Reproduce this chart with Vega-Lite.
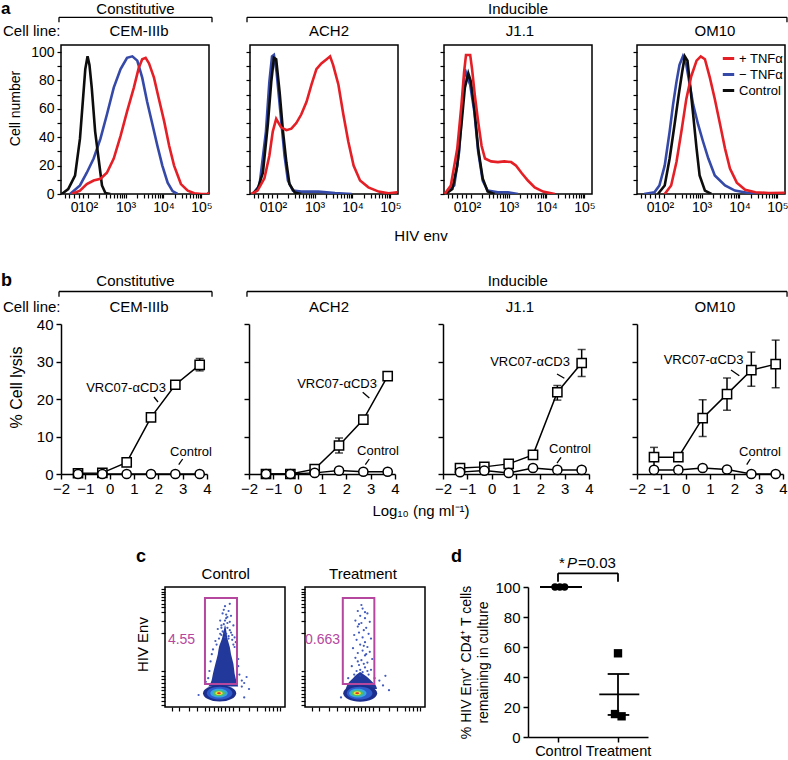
{
"$schema": "https://vega.github.io/schema/vega-lite/v6.json",
"padding": {"top": -3, "left": 0, "right": 0, "bottom": 0},
"background": "white",
"config": {
  "font": "Liberation Sans",
  "view": {"stroke": null},
  "axis": {"grid": false, "domainColor": "black", "tickColor": "black", "labelColor": "black", "titleColor": "black", "labelFont": "Liberation Sans", "titleFont": "Liberation Sans", "titleFontWeight": "normal", "labelOverlap": false, "labelFlush": false},
  "text": {"font": "Liberation Sans", "color": "black"}
},
"datasets": {
  "h_cem": [
    {"s":"− TNFα","x":1.54,"y":0},{"s":"− TNFα","x":1.8,"y":6},{"s":"− TNFα","x":1.98,"y":15},{"s":"− TNFα","x":2.16,"y":25},{"s":"− TNFα","x":2.34,"y":39},{"s":"− TNFα","x":2.51,"y":56},{"s":"− TNFα","x":2.69,"y":75},{"s":"− TNFα","x":2.87,"y":88},{"s":"− TNFα","x":3.04,"y":96},{"s":"− TNFα","x":3.18,"y":97},{"s":"− TNFα","x":3.31,"y":94},{"s":"− TNFα","x":3.44,"y":82},{"s":"− TNFα","x":3.57,"y":65},{"s":"− TNFα","x":3.71,"y":49},{"s":"− TNFα","x":3.84,"y":34},{"s":"− TNFα","x":3.97,"y":20},{"s":"− TNFα","x":4.11,"y":8},{"s":"− TNFα","x":4.24,"y":2},{"s":"− TNFα","x":4.37,"y":0},
    {"s":"Control","x":1.32,"y":0},{"s":"Control","x":1.49,"y":3.5},{"s":"Control","x":1.67,"y":13},{"s":"Control","x":1.8,"y":39},{"s":"Control","x":1.88,"y":67},{"s":"Control","x":1.94,"y":88},{"s":"Control","x":2.0,"y":97},{"s":"Control","x":2.05,"y":91},{"s":"Control","x":2.11,"y":75},{"s":"Control","x":2.2,"y":44},{"s":"Control","x":2.29,"y":25},{"s":"Control","x":2.38,"y":6},{"s":"Control","x":2.47,"y":0.7},{"s":"Control","x":2.6,"y":0},
    {"s":"+ TNFα","x":1.58,"y":0},{"s":"+ TNFα","x":1.8,"y":2.4},{"s":"+ TNFα","x":1.98,"y":7},{"s":"+ TNFα","x":2.16,"y":9.5},{"s":"+ TNFα","x":2.34,"y":10.7},{"s":"+ TNFα","x":2.51,"y":15},{"s":"+ TNFα","x":2.69,"y":25},{"s":"+ TNFα","x":2.87,"y":41},{"s":"+ TNFα","x":3.04,"y":58},{"s":"+ TNFα","x":3.22,"y":75},{"s":"+ TNFα","x":3.35,"y":89},{"s":"+ TNFα","x":3.44,"y":95},{"s":"+ TNFα","x":3.53,"y":96},{"s":"+ TNFα","x":3.62,"y":92},{"s":"+ TNFα","x":3.75,"y":82},{"s":"+ TNFα","x":3.88,"y":67},{"s":"+ TNFα","x":4.02,"y":51},{"s":"+ TNFα","x":4.15,"y":34},{"s":"+ TNFα","x":4.28,"y":20},{"s":"+ TNFα","x":4.46,"y":7},{"s":"+ TNFα","x":4.64,"y":2.4},{"s":"+ TNFα","x":4.81,"y":0.5},{"s":"+ TNFα","x":5.0,"y":0},{"s":"+ TNFα","x":5.17,"y":0},{"s":"+ TNFα","x":5.19,"y":1.2}
  ],
  "h_ach2": [
    {"s":"− TNFα","x":1.37,"y":0},{"s":"− TNFα","x":1.55,"y":6},{"s":"− TNFα","x":1.72,"y":44},{"s":"− TNFα","x":1.81,"y":79},{"s":"− TNFα","x":1.88,"y":97},{"s":"− TNFα","x":1.93,"y":98},{"s":"− TNFα","x":2.0,"y":86},{"s":"− TNFα","x":2.11,"y":55},{"s":"− TNFα","x":2.21,"y":27},{"s":"− TNFα","x":2.3,"y":9.5},{"s":"− TNFα","x":2.43,"y":2.4},{"s":"− TNFα","x":2.65,"y":1.7},{"s":"− TNFα","x":3.1,"y":1.7},{"s":"− TNFα","x":3.54,"y":0.7},{"s":"− TNFα","x":3.98,"y":0},
    {"s":"Control","x":1.37,"y":0},{"s":"Control","x":1.5,"y":3.5},{"s":"Control","x":1.64,"y":15},{"s":"Control","x":1.77,"y":49},{"s":"Control","x":1.86,"y":79},{"s":"Control","x":1.93,"y":96},{"s":"Control","x":1.99,"y":95},{"s":"Control","x":2.08,"y":72},{"s":"Control","x":2.17,"y":44},{"s":"Control","x":2.26,"y":22},{"s":"Control","x":2.34,"y":7},{"s":"Control","x":2.48,"y":1},{"s":"Control","x":2.65,"y":0},
    {"s":"+ TNFα","x":1.33,"y":0},{"s":"+ TNFα","x":1.5,"y":2.4},{"s":"+ TNFα","x":1.68,"y":11},{"s":"+ TNFα","x":1.81,"y":27},{"s":"+ TNFα","x":1.9,"y":44},{"s":"+ TNFα","x":1.99,"y":53},{"s":"+ TNFα","x":2.12,"y":47},{"s":"+ TNFα","x":2.26,"y":45},{"s":"+ TNFα","x":2.39,"y":46},{"s":"+ TNFα","x":2.52,"y":50},{"s":"+ TNFα","x":2.65,"y":56},{"s":"+ TNFα","x":2.79,"y":65},{"s":"+ TNFα","x":2.92,"y":77},{"s":"+ TNFα","x":3.05,"y":88},{"s":"+ TNFα","x":3.18,"y":92},{"s":"+ TNFα","x":3.32,"y":95},{"s":"+ TNFα","x":3.41,"y":97},{"s":"+ TNFα","x":3.49,"y":91},{"s":"+ TNFα","x":3.63,"y":77},{"s":"+ TNFα","x":3.76,"y":56},{"s":"+ TNFα","x":3.89,"y":37},{"s":"+ TNFα","x":4.03,"y":20},{"s":"+ TNFα","x":4.2,"y":9.5},{"s":"+ TNFα","x":4.42,"y":4.7},{"s":"+ TNFα","x":4.69,"y":1.7},{"s":"+ TNFα","x":4.95,"y":0.5},{"s":"+ TNFα","x":5.18,"y":1.2}
  ],
  "h_j11": [
    {"s":"− TNFα","x":1.34,"y":0},{"s":"− TNFα","x":1.57,"y":6},{"s":"− TNFα","x":1.7,"y":30},{"s":"− TNFα","x":1.79,"y":65},{"s":"− TNFα","x":1.85,"y":88},{"s":"− TNFα","x":1.92,"y":82},{"s":"− TNFα","x":1.99,"y":77},{"s":"− TNFα","x":2.1,"y":58},{"s":"− TNFα","x":2.2,"y":30},{"s":"− TNFα","x":2.32,"y":9.5},{"s":"− TNFα","x":2.45,"y":2.4},{"s":"− TNFα","x":2.72,"y":1.2},{"s":"− TNFα","x":2.98,"y":1.2},{"s":"− TNFα","x":3.25,"y":0},
    {"s":"Control","x":1.34,"y":0},{"s":"Control","x":1.52,"y":3.5},{"s":"Control","x":1.65,"y":20},{"s":"Control","x":1.76,"y":49},{"s":"Control","x":1.85,"y":75},{"s":"Control","x":1.94,"y":85},{"s":"Control","x":2.01,"y":79},{"s":"Control","x":2.1,"y":60},{"s":"Control","x":2.2,"y":32},{"s":"Control","x":2.32,"y":11},{"s":"Control","x":2.45,"y":1.7},{"s":"Control","x":2.63,"y":0},
    {"s":"+ TNFα","x":1.32,"y":0},{"s":"+ TNFα","x":1.48,"y":6},{"s":"+ TNFα","x":1.65,"y":32},{"s":"+ TNFα","x":1.76,"y":63},{"s":"+ TNFα","x":1.83,"y":86},{"s":"+ TNFα","x":1.88,"y":98},{"s":"+ TNFα","x":1.99,"y":98},{"s":"+ TNFα","x":2.04,"y":88},{"s":"+ TNFα","x":2.11,"y":70},{"s":"+ TNFα","x":2.2,"y":51},{"s":"+ TNFα","x":2.29,"y":34},{"s":"+ TNFα","x":2.38,"y":25},{"s":"+ TNFα","x":2.54,"y":23},{"s":"+ TNFα","x":2.72,"y":22.5},{"s":"+ TNFα","x":2.89,"y":23},{"s":"+ TNFα","x":3.07,"y":22.5},{"s":"+ TNFα","x":3.2,"y":20},{"s":"+ TNFα","x":3.34,"y":15},{"s":"+ TNFα","x":3.51,"y":9.5},{"s":"+ TNFα","x":3.69,"y":4.7},{"s":"+ TNFα","x":3.91,"y":1.7},{"s":"+ TNFα","x":4.22,"y":0}
  ],
  "h_om10": [
    {"s":"− TNFα","x":1.49,"y":0},{"s":"− TNFα","x":1.76,"y":1.2},{"s":"− TNFα","x":1.89,"y":6},{"s":"− TNFα","x":2.03,"y":20},{"s":"− TNFα","x":2.16,"y":44},{"s":"− TNFα","x":2.25,"y":63},{"s":"− TNFα","x":2.34,"y":79},{"s":"− TNFα","x":2.42,"y":91},{"s":"− TNFα","x":2.51,"y":97},{"s":"− TNFα","x":2.6,"y":91},{"s":"− TNFα","x":2.69,"y":77},{"s":"− TNFα","x":2.78,"y":63},{"s":"− TNFα","x":2.91,"y":49},{"s":"− TNFα","x":3.04,"y":37},{"s":"− TNFα","x":3.18,"y":25},{"s":"− TNFα","x":3.35,"y":13},{"s":"− TNFα","x":3.62,"y":6},{"s":"− TNFα","x":3.88,"y":2.4},{"s":"− TNFα","x":4.24,"y":0.7},{"s":"− TNFα","x":4.5,"y":0},
    {"s":"Control","x":1.85,"y":0},{"s":"Control","x":2.03,"y":6},{"s":"Control","x":2.16,"y":25},{"s":"Control","x":2.29,"y":49},{"s":"Control","x":2.4,"y":70},{"s":"Control","x":2.49,"y":86},{"s":"Control","x":2.56,"y":97},{"s":"Control","x":2.63,"y":94},{"s":"Control","x":2.69,"y":79},{"s":"Control","x":2.78,"y":56},{"s":"Control","x":2.87,"y":32},{"s":"Control","x":2.95,"y":13},{"s":"Control","x":3.09,"y":2.4},{"s":"Control","x":3.26,"y":0},
    {"s":"+ TNFα","x":2.03,"y":0},{"s":"+ TNFα","x":2.2,"y":6},{"s":"+ TNFα","x":2.34,"y":22.5},{"s":"+ TNFα","x":2.47,"y":44},{"s":"+ TNFα","x":2.6,"y":67},{"s":"+ TNFα","x":2.73,"y":83},{"s":"+ TNFα","x":2.87,"y":94},{"s":"+ TNFα","x":2.98,"y":97},{"s":"+ TNFα","x":3.09,"y":95},{"s":"+ TNFα","x":3.22,"y":82},{"s":"+ TNFα","x":3.35,"y":67},{"s":"+ TNFα","x":3.49,"y":49},{"s":"+ TNFα","x":3.62,"y":32},{"s":"+ TNFα","x":3.75,"y":18},{"s":"+ TNFα","x":3.93,"y":8},{"s":"+ TNFα","x":4.15,"y":3},{"s":"+ TNFα","x":4.42,"y":1.2},{"s":"+ TNFα","x":4.77,"y":0.7},{"s":"+ TNFα","x":5.19,"y":0.9}
  ],
  "bpts": [
    {"p":"cem","g":"VRC07-αCD3","x":-1.301,"y":0.2},{"p":"cem","g":"VRC07-αCD3","x":-0.301,"y":0.3},{"p":"cem","g":"VRC07-αCD3","x":0.699,"y":3.1},{"p":"cem","g":"VRC07-αCD3","x":1.699,"y":15.1},{"p":"cem","g":"VRC07-αCD3","x":2.699,"y":23.8},{"p":"cem","g":"VRC07-αCD3","x":3.699,"y":29.1},
    {"p":"cem","g":"Control","x":-1.301,"y":0},{"p":"cem","g":"Control","x":-0.301,"y":0},{"p":"cem","g":"Control","x":0.699,"y":0},{"p":"cem","g":"Control","x":1.699,"y":0},{"p":"cem","g":"Control","x":2.699,"y":0},{"p":"cem","g":"Control","x":3.699,"y":0},
    {"p":"ach2","g":"VRC07-αCD3","x":-1.301,"y":0},{"p":"ach2","g":"VRC07-αCD3","x":-0.301,"y":0},{"p":"ach2","g":"VRC07-αCD3","x":0.699,"y":1.3},{"p":"ach2","g":"VRC07-αCD3","x":1.699,"y":7.6},{"p":"ach2","g":"VRC07-αCD3","x":2.699,"y":14.5},{"p":"ach2","g":"VRC07-αCD3","x":3.699,"y":26.1},
    {"p":"ach2","g":"Control","x":-1.301,"y":0},{"p":"ach2","g":"Control","x":-0.301,"y":0},{"p":"ach2","g":"Control","x":0.699,"y":0.3},{"p":"ach2","g":"Control","x":1.699,"y":0.9},{"p":"ach2","g":"Control","x":2.699,"y":0.6},{"p":"ach2","g":"Control","x":3.699,"y":0.6},
    {"p":"j11","g":"VRC07-αCD3","x":-1.301,"y":1.6},{"p":"j11","g":"VRC07-αCD3","x":-0.301,"y":1.9},{"p":"j11","g":"VRC07-αCD3","x":0.699,"y":2.7},{"p":"j11","g":"VRC07-αCD3","x":1.699,"y":5.1},{"p":"j11","g":"VRC07-αCD3","x":2.699,"y":21.8},{"p":"j11","g":"VRC07-αCD3","x":3.699,"y":29.6},
    {"p":"j11","g":"Control","x":-1.301,"y":0.5},{"p":"j11","g":"Control","x":-0.301,"y":0.9},{"p":"j11","g":"Control","x":0.699,"y":0.3},{"p":"j11","g":"Control","x":1.699,"y":1.6},{"p":"j11","g":"Control","x":2.699,"y":1.1},{"p":"j11","g":"Control","x":3.699,"y":1.1},
    {"p":"om10","g":"VRC07-αCD3","x":-1.301,"y":4.5},{"p":"om10","g":"VRC07-αCD3","x":-0.301,"y":4.5},{"p":"om10","g":"VRC07-αCD3","x":0.699,"y":14.9},{"p":"om10","g":"VRC07-αCD3","x":1.699,"y":21.3},{"p":"om10","g":"VRC07-αCD3","x":2.699,"y":27.7},{"p":"om10","g":"VRC07-αCD3","x":3.699,"y":29.3},
    {"p":"om10","g":"Control","x":-1.301,"y":1.1},{"p":"om10","g":"Control","x":-0.301,"y":1.1},{"p":"om10","g":"Control","x":0.699,"y":1.6},{"p":"om10","g":"Control","x":1.699,"y":1.2},{"p":"om10","g":"Control","x":2.699,"y":0},{"p":"om10","g":"Control","x":3.699,"y":0}
  ],
  "berr": [
    {"p":"cem","x":3.699,"y":27.5,"y2":30.8},
    {"p":"ach2","x":1.699,"y":5.6,"y2":9.6},
    {"p":"j11","x":2.699,"y":19.7,"y2":23.6},{"p":"j11","x":3.699,"y":26.0,"y2":33.2},
    {"p":"om10","x":-1.301,"y":1.9,"y2":7.1},{"p":"om10","x":0.699,"y":10.0,"y2":19.8},{"p":"om10","x":1.699,"y":17.0,"y2":25.6},{"p":"om10","x":2.699,"y":23.4,"y2":32.5},{"p":"om10","x":3.699,"y":23.0,"y2":35.7}
  ],
  "ann": [
    {"p":"cem_a","k":"h","t":"Constitutive","x":3.263,"y":127.0},
    {"p":"cem_a","k":"h","t":"CEM-IIIb","x":3.355,"y":111.0},
    {"p":"cem_a","k":"l","t":"Cell line:","x":-0.228,"y":111.0},
    {"p":"cem_a","k":"b","t":"a","x":-0.281,"y":126.5},
    {"p":"ach2_a","k":"h","t":"ACH2","x":3.382,"y":111.0},
    {"p":"ach2_a","k":"h","t":"HIV env","x":5.806,"y":-33.1},
    {"p":"j11_a","k":"h","t":"Inducible","x":3.25,"y":127.0},
    {"p":"j11_a","k":"h","t":"J1.1","x":3.303,"y":111.0},
    {"p":"om10_a","k":"h","t":"OM10","x":3.355,"y":111.0},
    {"p":"cem_b","k":"h","t":"Constitutive","x":1.062,"y":50.13},
    {"p":"cem_b","k":"h","t":"CEM-IIIb","x":1.206,"y":43.2},
    {"p":"cem_b","k":"l","t":"Cell line:","x":-4.384,"y":43.2},
    {"p":"cem_b","k":"b","t":"b","x":-4.466,"y":50.13},
    {"p":"cem_b","k":"n","t":"VRC07-αCD3","x":0.672,"y":21.87},
    {"p":"cem_b","k":"n","t":"Control","x":3.343,"y":4.8},
    {"p":"ach2_b","k":"h","t":"ACH2","x":1.288,"y":43.2},
    {"p":"ach2_b","k":"h","t":"Log₁₀ (ng ml⁻¹)","x":5.069,"y":-11.2},
    {"p":"ach2_b","k":"n","t":"VRC07-αCD3","x":1.617,"y":22.93},
    {"p":"ach2_b","k":"n","t":"Control","x":3.302,"y":5.07},
    {"p":"j11_b","k":"h","t":"Inducible","x":1.07,"y":50.13},
    {"p":"j11_b","k":"h","t":"J1.1","x":1.165,"y":43.2},
    {"p":"j11_b","k":"n","t":"VRC07-αCD3","x":1.576,"y":28.88},
    {"p":"j11_b","k":"n","t":"Control","x":3.22,"y":5.52},
    {"p":"om10_b","k":"h","t":"OM10","x":1.206,"y":43.2},
    {"p":"om10_b","k":"n","t":"VRC07-αCD3","x":0.733,"y":29.33},
    {"p":"om10_b","k":"n","t":"Control","x":3.055,"y":4.89},
    {"p":"cc","k":"b","t":"c","x":-24.2,"y":120.8},
    {"p":"cc","k":"h","t":"Control","x":50.6,"y":106.7},
    {"p":"cc","k":"r","t":"HIV Env","x":-18,"y":52},
    {"p":"cc","k":"g","t":"4.55","x":13.75,"y":55.8},
    {"p":"ct","k":"h","t":"Treatment","x":48.3,"y":106.7},
    {"p":"ct","k":"g","t":"0.663","x":14.6,"y":55.8},
    {"p":"d","k":"b","t":"d","x":-1.283,"y":116.7},
    {"p":"d","k":"s","t":"*","x":0.517,"y":112.5},
    {"p":"d","k":"i","t":"P","x":0.65,"y":112.5},
    {"p":"d","k":"s","t":"=0.03","x":0.833,"y":112.5}
  ],
  "mk": [
    {"p":"cem_a","x":2.354,"y":137.77},{"p":"cem_a","x":2.354,"y":-41.16},
    {"p":"cem_b","x":0,"y":58.507},{"p":"cem_b","x":0,"y":-15.84},
    {"p":"cc","x":50,"y":142.83}
  ],
  "rules": [
    {"p":"cem_a","x":1.247,"x2":5.279,"y":124.5,"y2":124.5},{"p":"cem_a","x":1.247,"x2":1.247,"y":124.5,"y2":121.0},{"p":"cem_a","x":5.279,"x2":5.279,"y":124.5,"y2":121.0},
    {"p":"j11_a","x":-3.891,"x2":10.338,"y":124.5,"y2":124.5},{"p":"j11_a","x":-3.891,"x2":-3.891,"y":124.5,"y2":121.0},{"p":"j11_a","x":10.338,"x2":10.338,"y":124.5,"y2":121.0},
    {"p":"cem_b","x":-2.082,"x2":4.206,"y":48.67,"y2":48.67},{"p":"cem_b","x":-2.082,"x2":-2.082,"y":48.67,"y2":47.28},{"p":"cem_b","x":4.206,"x2":4.206,"y":48.67,"y2":47.28},
    {"p":"cem_b","x":1.822,"x2":1.987,"y":20.53,"y2":19.2},{"p":"cem_b","x":3.0,"x2":2.837,"y":4.0,"y2":2.48},
    {"p":"ach2_b","x":2.673,"x2":2.945,"y":21.79,"y2":20.27},{"p":"ach2_b","x":2.945,"x2":2.781,"y":4.0,"y2":2.48},
    {"p":"j11_b","x":-10.056,"x2":12.139,"y":48.67,"y2":48.67},{"p":"j11_b","x":-10.056,"x2":-10.056,"y":48.67,"y2":47.28},{"p":"j11_b","x":12.139,"x2":12.139,"y":48.67,"y2":47.28},
    {"p":"j11_b","x":2.686,"x2":2.987,"y":26.67,"y2":25.52},{"p":"j11_b","x":2.85,"x2":2.686,"y":4.44,"y2":2.93},
    {"p":"om10_b","x":1.864,"x2":2.205,"y":27.73,"y2":26.21},{"p":"om10_b","x":2.657,"x2":2.509,"y":4.0,"y2":2.48},
    {"p":"d","x":0.2,"x2":0.9,"y":100,"y2":100},{"p":"d","x":1.188,"x2":1.855,"y":28.4,"y2":28.4},{"p":"d","x":1.5,"x2":1.5,"y":14.7,"y2":42},{"p":"d","x":1.328,"x2":1.688,"y":42,"y2":42},{"p":"d","x":1.328,"x2":1.688,"y":14.7,"y2":14.7},
    {"p":"d","x":0.5,"x2":1.5,"y":109.1,"y2":109.1},{"p":"d","x":0.5,"x2":0.5,"y":109.1,"y2":103.5},{"p":"d","x":1.5,"x2":1.5,"y":109.1,"y2":103.5}
  ],
  "c_area": [
    {"p":"cc","y":17,"x":36,"x2":61},{"p":"cc","y":20,"x":38,"x2":60},{"p":"cc","y":28,"x":40,"x2":58},{"p":"cc","y":36,"x":42,"x2":57},{"p":"cc","y":44,"x":44,"x2":55},{"p":"cc","y":50,"x":45,"x2":54},{"p":"cc","y":57,"x":47.5,"x2":52},{"p":"cc","y":64,"x":49,"x2":51},{"p":"cc","y":68,"x":49.8,"x2":50.3},
    {"p":"ct","y":15,"x":34,"x2":60},{"p":"ct","y":18,"x":35,"x2":59},{"p":"ct","y":21,"x":37,"x2":56},{"p":"ct","y":24,"x":40,"x2":53},{"p":"ct","y":27,"x":43,"x2":49},{"p":"ct","y":29,"x":45.5,"x2":46.5}
  ],
  "c_dots": [
    {"p":"cc","x":50,"y":84},{"p":"cc","x":53,"y":80},{"p":"cc","x":48,"y":78},{"p":"cc","x":55,"y":76},{"p":"cc","x":51,"y":74},{"p":"cc","x":46,"y":72},{"p":"cc","x":54,"y":71},{"p":"cc","x":49,"y":69},{"p":"cc","x":57,"y":68},{"p":"cc","x":52,"y":66},{"p":"cc","x":44,"y":65},{"p":"cc","x":48,"y":63},{"p":"cc","x":55,"y":62},{"p":"cc","x":51,"y":61},{"p":"cc","x":47,"y":60},{"p":"cc","x":53,"y":59},{"p":"cc","x":58,"y":58},{"p":"cc","x":45,"y":57},{"p":"cc","x":56,"y":56},{"p":"cc","x":42,"y":55},{"p":"cc","x":59,"y":54},{"p":"cc","x":43,"y":52},{"p":"cc","x":58,"y":50},{"p":"cc","x":40,"y":48},{"p":"cc","x":60,"y":46},{"p":"cc","x":39,"y":44},{"p":"cc","x":61,"y":40},{"p":"cc","x":38,"y":38},{"p":"cc","x":61,"y":34},{"p":"cc","x":37,"y":30},{"p":"cc","x":62,"y":27},{"p":"cc","x":36,"y":24},{"p":"cc","x":64,"y":22},{"p":"cc","x":66,"y":20},{"p":"cc","x":68,"y":25},{"p":"cc","x":34,"y":21},{"p":"cc","x":70,"y":15},{"p":"cc","x":64,"y":17},{"p":"cc","x":28,"y":10},{"p":"cc","x":66,"y":8},{"p":"cc","x":50,"y":72},{"p":"cc","x":52,"y":70},{"p":"cc","x":47,"y":66},{"p":"cc","x":54,"y":64},{"p":"cc","x":49,"y":62},{"p":"cc","x":56,"y":60},{"p":"cc","x":50,"y":58},{"p":"cc","x":53,"y":57},{"p":"cc","x":46,"y":61},{"p":"cc","x":57,"y":52},{"p":"cc","x":51,"y":77},{"p":"cc","x":49,"y":81},{"p":"cc","x":54,"y":86},{"p":"cc","x":52,"y":75},{"p":"cc","x":47,"y":68},
    {"p":"ct","x":48,"y":82},{"p":"ct","x":44,"y":80},{"p":"ct","x":52,"y":78},{"p":"ct","x":46,"y":76},{"p":"ct","x":50,"y":74},{"p":"ct","x":42,"y":72},{"p":"ct","x":54,"y":71},{"p":"ct","x":47,"y":70},{"p":"ct","x":44,"y":67},{"p":"ct","x":51,"y":66},{"p":"ct","x":49,"y":64},{"p":"ct","x":45,"y":62},{"p":"ct","x":53,"y":61},{"p":"ct","x":41,"y":60},{"p":"ct","x":48,"y":58},{"p":"ct","x":55,"y":57},{"p":"ct","x":43,"y":56},{"p":"ct","x":50,"y":54},{"p":"ct","x":46,"y":52},{"p":"ct","x":52,"y":50},{"p":"ct","x":40,"y":49},{"p":"ct","x":48,"y":47},{"p":"ct","x":54,"y":46},{"p":"ct","x":44,"y":45},{"p":"ct","x":50,"y":43},{"p":"ct","x":42,"y":41},{"p":"ct","x":56,"y":40},{"p":"ct","x":47,"y":39},{"p":"ct","x":52,"y":37},{"p":"ct","x":45,"y":35},{"p":"ct","x":39,"y":34},{"p":"ct","x":50,"y":33},{"p":"ct","x":55,"y":31},{"p":"ct","x":43,"y":30},{"p":"ct","x":48,"y":29},{"p":"ct","x":41,"y":27},{"p":"ct","x":53,"y":27},{"p":"ct","x":46,"y":26},{"p":"ct","x":58,"y":24},{"p":"ct","x":36,"y":24},{"p":"ct","x":62,"y":22},{"p":"ct","x":65,"y":18},{"p":"ct","x":70,"y":14},{"p":"ct","x":30,"y":8},{"p":"ct","x":67,"y":26},{"p":"ct","x":47,"y":85},{"p":"ct","x":50,"y":79},{"p":"ct","x":45,"y":69},{"p":"ct","x":49,"y":51},{"p":"ct","x":51,"y":44},{"p":"ct","x":44,"y":38},{"p":"ct","x":49,"y":36},{"p":"ct","x":46,"y":31},{"p":"ct","x":52,"y":30}
  ],
  "c_blob": [
    {"p":"cc","x":45.5,"y":11.5,"lvl":1},{"p":"cc","x":45.5,"y":11.5,"lvl":2},{"p":"cc","x":45,"y":11.5,"lvl":3},{"p":"cc","x":45,"y":11.5,"lvl":4},{"p":"cc","x":45,"y":11.5,"lvl":5},{"p":"cc","x":45,"y":11.5,"lvl":6},
    {"p":"ct","x":46,"y":11.5,"lvl":1},{"p":"ct","x":45.5,"y":11.5,"lvl":2},{"p":"ct","x":44,"y":11.5,"lvl":3},{"p":"ct","x":43.5,"y":11.5,"lvl":4},{"p":"ct","x":43.5,"y":11.5,"lvl":5},{"p":"ct","x":43.5,"y":11.5,"lvl":6}
  ],
  "c_gate": [
    {"p":"cc","x":33.3,"x2":60,"y":19.2,"y2":90.8},
    {"p":"ct","x":31.5,"x2":57.8,"y":19.2,"y2":90.8}
  ],
  "d_pts": [
    {"g":"Control","x":0.45,"y":100},{"g":"Control","x":0.53,"y":100},{"g":"Control","x":0.61,"y":100},
    {"g":"Treatment","x":1.5,"y":55.8},{"g":"Treatment","x":1.45,"y":15.3},{"g":"Treatment","x":1.56,"y":13.8}
  ]
},
"spacing": 0,
"bounds": "full",
"resolve": {"scale": {"color": "independent", "size": "independent"}, "legend": {"color": "independent", "size": "independent"}},
"vconcat": [
 {"hconcat": [
  {"width": 148, "height": 149, "view": {"stroke": "black", "strokeWidth": 1.5},
   "encoding": {
    "x": {"field": "x", "type": "quantitative", "scale": {"domain": [1.3, 5.2], "nice": false, "zero": false}, "axis": {"values": [1.4,1.52,1.645,1.77,1.88,2,2.301,2.477,2.602,2.699,2.778,2.845,2.903,2.954,3,3.301,3.477,3.602,3.699,3.778,3.845,3.903,3.954,4,4.301,4.477,4.602,4.699,4.778,4.845,4.903,4.954,5], "labelExpr": "datum.value == 1.645 ? '0' : datum.value == 2 ? '10²' : datum.value == 3 ? '10³' : datum.value == 4 ? '10⁴' : datum.value == 5 ? '10⁵' : ''", "tickSize": 4, "tickWidth": 1.2, "labelFontSize": 14, "labelPadding": 2, "labelFlush": false, "labelOverlap": false, "title": null, "domain": false}},
    "y": {"field": "y", "type": "quantitative", "scale": {"domain": [0, 105], "nice": false, "zero": false}, "axis": {"values": [0,10,20,30,40,50,60,70,80,90,100], "labelExpr": "datum.value % 20 == 0 ? datum.label : ''", "tickSize": 4, "tickWidth": 1.2, "labelFontSize": 14, "labelPadding": 3, "labelOverlap": false, "title": "Cell number", "titleFontSize": 14, "titlePadding": 8, "titleY": 63, "domain": false}}
   },
   "layer": [
    {"data": {"name": "h_cem"}, "mark": {"type": "line", "strokeWidth": 2.6, "clip": true},
     "encoding": {"color": {"field": "s", "type": "nominal", "scale": {"domain": ["+ TNFα", "− TNFα", "Control"], "range": ["#e41f26", "#3549a8", "#0d0d0d"]}, "legend": null}}},
    {"data": {"name": "mk"}, "transform": [{"filter": "datum.p == 'cem_a'"}], "mark": {"type": "point", "filled": true, "size": 1, "opacity": 0}, "encoding": {}},
    {"data": {"name": "ann"}, "transform": [{"filter": "datum.p == 'cem_a' && datum.k == 'h'"}], "mark": {"type": "text", "fontSize": 15, "align": "center", "baseline": "alphabetic"}, "encoding": {"text": {"field": "t"}}},
    {"data": {"name": "ann"}, "transform": [{"filter": "datum.p == 'cem_a' && datum.k == 'l'"}], "mark": {"type": "text", "fontSize": 15, "align": "left", "baseline": "alphabetic"}, "encoding": {"text": {"field": "t"}}},
    {"data": {"name": "ann"}, "transform": [{"filter": "datum.p == 'cem_a' && datum.k == 'b'"}], "mark": {"type": "text", "fontSize": 17, "fontWeight": "bold", "align": "left", "baseline": "alphabetic"}, "encoding": {"text": {"field": "t"}}},
    {"data": {"name": "rules"}, "transform": [{"filter": "datum.p == 'cem_a'"}], "mark": {"type": "rule", "strokeWidth": 1.3, "color": "black"}, "encoding": {"x2": {"field": "x2"}, "y2": {"field": "y2"}}}
   ]},
  {"width": 41, "height": 1, "data": {"values": []}, "mark": "point"},
  {"width": 148, "height": 149, "view": {"stroke": "black", "strokeWidth": 1.5},
   "encoding": {
    "x": {"field": "x", "type": "quantitative", "scale": {"domain": [1.3, 5.2], "nice": false, "zero": false}, "axis": {"values": [1.4,1.52,1.645,1.77,1.88,2,2.301,2.477,2.602,2.699,2.778,2.845,2.903,2.954,3,3.301,3.477,3.602,3.699,3.778,3.845,3.903,3.954,4,4.301,4.477,4.602,4.699,4.778,4.845,4.903,4.954,5], "labelExpr": "datum.value == 1.645 ? '0' : datum.value == 2 ? '10²' : datum.value == 3 ? '10³' : datum.value == 4 ? '10⁴' : datum.value == 5 ? '10⁵' : ''", "tickSize": 4, "tickWidth": 1.2, "labelFontSize": 14, "labelPadding": 2, "labelFlush": false, "labelOverlap": false, "title": null, "domain": false}},
    "y": {"field": "y", "type": "quantitative", "scale": {"domain": [0, 105], "nice": false, "zero": false}, "axis": {"values": [0,10,20,30,40,50,60,70,80,90,100], "labels": false, "tickSize": 4, "tickWidth": 1.2, "title": null, "domain": false}}
   },
   "layer": [
    {"data": {"name": "h_ach2"}, "mark": {"type": "line", "strokeWidth": 2.6, "clip": true},
     "encoding": {"color": {"field": "s", "type": "nominal", "scale": {"domain": ["+ TNFα", "− TNFα", "Control"], "range": ["#e41f26", "#3549a8", "#0d0d0d"]}, "legend": null}}},
    {"data": {"name": "ann"}, "transform": [{"filter": "datum.p == 'ach2_a' && datum.k == 'h'"}], "mark": {"type": "text", "fontSize": 15, "align": "center", "baseline": "alphabetic"}, "encoding": {"text": {"field": "t"}}}
   ]},
  {"width": 46, "height": 1, "data": {"values": []}, "mark": "point"},
  {"width": 148, "height": 149, "view": {"stroke": "black", "strokeWidth": 1.5},
   "encoding": {
    "x": {"field": "x", "type": "quantitative", "scale": {"domain": [1.3, 5.2], "nice": false, "zero": false}, "axis": {"values": [1.4,1.52,1.645,1.77,1.88,2,2.301,2.477,2.602,2.699,2.778,2.845,2.903,2.954,3,3.301,3.477,3.602,3.699,3.778,3.845,3.903,3.954,4,4.301,4.477,4.602,4.699,4.778,4.845,4.903,4.954,5], "labelExpr": "datum.value == 1.645 ? '0' : datum.value == 2 ? '10²' : datum.value == 3 ? '10³' : datum.value == 4 ? '10⁴' : datum.value == 5 ? '10⁵' : ''", "tickSize": 4, "tickWidth": 1.2, "labelFontSize": 14, "labelPadding": 2, "labelFlush": false, "labelOverlap": false, "title": null, "domain": false}},
    "y": {"field": "y", "type": "quantitative", "scale": {"domain": [0, 105], "nice": false, "zero": false}, "axis": {"values": [0,10,20,30,40,50,60,70,80,90,100], "labels": false, "tickSize": 4, "tickWidth": 1.2, "title": null, "domain": false}}
   },
   "layer": [
    {"data": {"name": "h_j11"}, "mark": {"type": "line", "strokeWidth": 2.6, "clip": true},
     "encoding": {"color": {"field": "s", "type": "nominal", "scale": {"domain": ["+ TNFα", "− TNFα", "Control"], "range": ["#e41f26", "#3549a8", "#0d0d0d"]}, "legend": null}}},
    {"data": {"name": "ann"}, "transform": [{"filter": "datum.p == 'j11_a' && datum.k == 'h'"}], "mark": {"type": "text", "fontSize": 15, "align": "center", "baseline": "alphabetic"}, "encoding": {"text": {"field": "t"}}},
    {"data": {"name": "rules"}, "transform": [{"filter": "datum.p == 'j11_a'"}], "mark": {"type": "rule", "strokeWidth": 1.3, "color": "black"}, "encoding": {"x2": {"field": "x2"}, "y2": {"field": "y2"}}}
   ]},
  {"width": 45, "height": 1, "data": {"values": []}, "mark": "point"},
  {"width": 148, "height": 149, "view": {"stroke": "black", "strokeWidth": 1.5},
   "encoding": {
    "x": {"field": "x", "type": "quantitative", "scale": {"domain": [1.3, 5.2], "nice": false, "zero": false}, "axis": {"values": [1.4,1.52,1.645,1.77,1.88,2,2.301,2.477,2.602,2.699,2.778,2.845,2.903,2.954,3,3.301,3.477,3.602,3.699,3.778,3.845,3.903,3.954,4,4.301,4.477,4.602,4.699,4.778,4.845,4.903,4.954,5], "labelExpr": "datum.value == 1.645 ? '0' : datum.value == 2 ? '10²' : datum.value == 3 ? '10³' : datum.value == 4 ? '10⁴' : datum.value == 5 ? '10⁵' : ''", "tickSize": 4, "tickWidth": 1.2, "labelFontSize": 14, "labelPadding": 2, "labelFlush": false, "labelOverlap": false, "title": null, "domain": false}},
    "y": {"field": "y", "type": "quantitative", "scale": {"domain": [0, 105], "nice": false, "zero": false}, "axis": {"values": [0,10,20,30,40,50,60,70,80,90,100], "labels": false, "tickSize": 4, "tickWidth": 1.2, "title": null, "domain": false}}
   },
   "layer": [
    {"data": {"name": "h_om10"}, "mark": {"type": "line", "strokeWidth": 2.6, "clip": true},
     "encoding": {"color": {"field": "s", "type": "nominal", "scale": {"domain": ["+ TNFα", "− TNFα", "Control"], "range": ["#e41f26", "#3549a8", "#0d0d0d"]},
        "legend": {"orient": "none", "legendX": 84, "legendY": 6, "title": null, "symbolType": "stroke", "symbolStrokeWidth": 3, "symbolSize": 130, "labelFontSize": 13, "labelFont": "Liberation Sans", "labelColor": "black", "labelOffset": 3, "rowPadding": 1, "padding": 0}}}},
    {"data": {"name": "ann"}, "transform": [{"filter": "datum.p == 'om10_a' && datum.k == 'h'"}], "mark": {"type": "text", "fontSize": 15, "align": "center", "baseline": "alphabetic"}, "encoding": {"text": {"field": "t"}}}
   ]}
 ], "spacing": 0, "bounds": "flush", "resolve": {"scale": {"color": "independent"}, "legend": {"color": "independent"}}},

 {"hconcat": [
  {"width": 146, "height": 150,
   "encoding": {
    "x": {"field": "x", "type": "quantitative", "scale": {"domain": [-2, 4], "nice": false, "zero": false}, "axis": {"values": [-2,-1,0,1,2,3,4], "tickSize": 5, "tickWidth": 1.4, "labelFontSize": 15, "labelPadding": 2, "labelFlush": false, "labelOverlap": false, "title": null, "domainWidth": 1.5}},
    "y": {"field": "y", "type": "quantitative", "scale": {"domain": [0, 40], "nice": false, "zero": false}, "axis": {"values": [0,10,20,30,40], "tickSize": 5, "tickWidth": 1.4, "labelFontSize": 15, "labelPadding": 3, "labelOverlap": false, "title": "% Cell lysis", "titleFontSize": 16, "titlePadding": 12, "titleY": 63, "domainWidth": 1.5}}
   },
   "layer": [
    {"data": {"name": "bpts"}, "transform": [{"filter": "datum.p == 'cem'"}], "mark": {"type": "line", "color": "black", "strokeWidth": 1.5}, "encoding": {"detail": {"field": "g"}}},
    {"data": {"name": "mk"}, "transform": [{"filter": "datum.p == 'cem_b'"}], "mark": {"type": "point", "filled": true, "size": 1, "opacity": 0}, "encoding": {}},
    {"data": {"name": "berr"}, "transform": [{"filter": "datum.p == 'cem'"}], "mark": {"type": "errorbar", "ticks": true, "size": 8, "thickness": 1.5, "color": "black"}, "encoding": {"y2": {"field": "y2"}}},
    {"data": {"name": "bpts"}, "transform": [{"filter": "datum.p == 'cem'"}], "mark": {"type": "point", "filled": true, "fill": "white", "stroke": "black", "strokeWidth": 1.5, "size": 85, "opacity": 1},
     "encoding": {"shape": {"field": "g", "type": "nominal", "scale": {"domain": ["VRC07-αCD3", "Control"], "range": ["square", "circle"]}, "legend": null}}},
    {"data": {"name": "ann"}, "transform": [{"filter": "datum.p == 'cem_b' && datum.k == 'h'"}], "mark": {"type": "text", "fontSize": 15, "align": "center", "baseline": "alphabetic"}, "encoding": {"text": {"field": "t"}}},
    {"data": {"name": "ann"}, "transform": [{"filter": "datum.p == 'cem_b' && datum.k == 'n'"}], "mark": {"type": "text", "fontSize": 13, "align": "center", "baseline": "alphabetic"}, "encoding": {"text": {"field": "t"}}},
    {"data": {"name": "ann"}, "transform": [{"filter": "datum.p == 'cem_b' && datum.k == 'l'"}], "mark": {"type": "text", "fontSize": 15, "align": "left", "baseline": "alphabetic"}, "encoding": {"text": {"field": "t"}}},
    {"data": {"name": "ann"}, "transform": [{"filter": "datum.p == 'cem_b' && datum.k == 'b'"}], "mark": {"type": "text", "fontSize": 18, "fontWeight": "bold", "align": "left", "baseline": "alphabetic"}, "encoding": {"text": {"field": "t"}}},
    {"data": {"name": "rules"}, "transform": [{"filter": "datum.p == 'cem_b'"}], "mark": {"type": "rule", "strokeWidth": 1.3, "color": "black"}, "encoding": {"x2": {"field": "x2"}, "y2": {"field": "y2"}}}
   ]},
  {"width": 42, "height": 1, "data": {"values": []}, "mark": "point"},
  {"width": 146, "height": 150,
   "encoding": {
    "x": {"field": "x", "type": "quantitative", "scale": {"domain": [-2, 4], "nice": false, "zero": false}, "axis": {"values": [-2,-1,0,1,2,3,4], "tickSize": 5, "tickWidth": 1.4, "labelFontSize": 15, "labelPadding": 2, "labelFlush": false, "labelOverlap": false, "title": null, "domainWidth": 1.5}},
    "y": {"field": "y", "type": "quantitative", "scale": {"domain": [0, 40], "nice": false, "zero": false}, "axis": {"values": [0,10,20,30,40], "tickSize": 5, "tickWidth": 1.4, "labels": false, "title": null, "domainWidth": 1.5}}
   },
   "layer": [
    {"data": {"name": "bpts"}, "transform": [{"filter": "datum.p == 'ach2'"}], "mark": {"type": "line", "color": "black", "strokeWidth": 1.5}, "encoding": {"detail": {"field": "g"}}},
    {"data": {"name": "berr"}, "transform": [{"filter": "datum.p == 'ach2'"}], "mark": {"type": "errorbar", "ticks": true, "size": 8, "thickness": 1.5, "color": "black"}, "encoding": {"y2": {"field": "y2"}}},
    {"data": {"name": "bpts"}, "transform": [{"filter": "datum.p == 'ach2'"}], "mark": {"type": "point", "filled": true, "fill": "white", "stroke": "black", "strokeWidth": 1.5, "size": 85, "opacity": 1},
     "encoding": {"shape": {"field": "g", "type": "nominal", "scale": {"domain": ["VRC07-αCD3", "Control"], "range": ["square", "circle"]}, "legend": null}}},
    {"data": {"name": "ann"}, "transform": [{"filter": "datum.p == 'ach2_b' && datum.k == 'h'"}], "mark": {"type": "text", "fontSize": 15, "align": "center", "baseline": "alphabetic"}, "encoding": {"text": {"field": "t"}}},
    {"data": {"name": "ann"}, "transform": [{"filter": "datum.p == 'ach2_b' && datum.k == 'n'"}], "mark": {"type": "text", "fontSize": 13, "align": "center", "baseline": "alphabetic"}, "encoding": {"text": {"field": "t"}}},
    {"data": {"name": "rules"}, "transform": [{"filter": "datum.p == 'ach2_b'"}], "mark": {"type": "rule", "strokeWidth": 1.3, "color": "black"}, "encoding": {"x2": {"field": "x2"}, "y2": {"field": "y2"}}}
   ]},
  {"width": 48, "height": 1, "data": {"values": []}, "mark": "point"},
  {"width": 146, "height": 150,
   "encoding": {
    "x": {"field": "x", "type": "quantitative", "scale": {"domain": [-2, 4], "nice": false, "zero": false}, "axis": {"values": [-2,-1,0,1,2,3,4], "tickSize": 5, "tickWidth": 1.4, "labelFontSize": 15, "labelPadding": 2, "labelFlush": false, "labelOverlap": false, "title": null, "domainWidth": 1.5}},
    "y": {"field": "y", "type": "quantitative", "scale": {"domain": [0, 40], "nice": false, "zero": false}, "axis": {"values": [0,10,20,30,40], "tickSize": 5, "tickWidth": 1.4, "labels": false, "title": null, "domainWidth": 1.5}}
   },
   "layer": [
    {"data": {"name": "bpts"}, "transform": [{"filter": "datum.p == 'j11'"}], "mark": {"type": "line", "color": "black", "strokeWidth": 1.5}, "encoding": {"detail": {"field": "g"}}},
    {"data": {"name": "berr"}, "transform": [{"filter": "datum.p == 'j11'"}], "mark": {"type": "errorbar", "ticks": true, "size": 8, "thickness": 1.5, "color": "black"}, "encoding": {"y2": {"field": "y2"}}},
    {"data": {"name": "bpts"}, "transform": [{"filter": "datum.p == 'j11'"}], "mark": {"type": "point", "filled": true, "fill": "white", "stroke": "black", "strokeWidth": 1.5, "size": 85, "opacity": 1},
     "encoding": {"shape": {"field": "g", "type": "nominal", "scale": {"domain": ["VRC07-αCD3", "Control"], "range": ["square", "circle"]}, "legend": null}}},
    {"data": {"name": "ann"}, "transform": [{"filter": "datum.p == 'j11_b' && datum.k == 'h'"}], "mark": {"type": "text", "fontSize": 15, "align": "center", "baseline": "alphabetic"}, "encoding": {"text": {"field": "t"}}},
    {"data": {"name": "ann"}, "transform": [{"filter": "datum.p == 'j11_b' && datum.k == 'n'"}], "mark": {"type": "text", "fontSize": 13, "align": "center", "baseline": "alphabetic"}, "encoding": {"text": {"field": "t"}}},
    {"data": {"name": "rules"}, "transform": [{"filter": "datum.p == 'j11_b'"}], "mark": {"type": "rule", "strokeWidth": 1.3, "color": "black"}, "encoding": {"x2": {"field": "x2"}, "y2": {"field": "y2"}}}
   ]},
  {"width": 48, "height": 1, "data": {"values": []}, "mark": "point"},
  {"width": 146, "height": 150,
   "encoding": {
    "x": {"field": "x", "type": "quantitative", "scale": {"domain": [-2, 4], "nice": false, "zero": false}, "axis": {"values": [-2,-1,0,1,2,3,4], "tickSize": 5, "tickWidth": 1.4, "labelFontSize": 15, "labelPadding": 2, "labelFlush": false, "labelOverlap": false, "title": null, "domainWidth": 1.5}},
    "y": {"field": "y", "type": "quantitative", "scale": {"domain": [0, 40], "nice": false, "zero": false}, "axis": {"values": [0,10,20,30,40], "tickSize": 5, "tickWidth": 1.4, "labels": false, "title": null, "domainWidth": 1.5}}
   },
   "layer": [
    {"data": {"name": "bpts"}, "transform": [{"filter": "datum.p == 'om10'"}], "mark": {"type": "line", "color": "black", "strokeWidth": 1.5}, "encoding": {"detail": {"field": "g"}}},
    {"data": {"name": "berr"}, "transform": [{"filter": "datum.p == 'om10'"}], "mark": {"type": "errorbar", "ticks": true, "size": 8, "thickness": 1.5, "color": "black"}, "encoding": {"y2": {"field": "y2"}}},
    {"data": {"name": "bpts"}, "transform": [{"filter": "datum.p == 'om10'"}], "mark": {"type": "point", "filled": true, "fill": "white", "stroke": "black", "strokeWidth": 1.5, "size": 85, "opacity": 1},
     "encoding": {"shape": {"field": "g", "type": "nominal", "scale": {"domain": ["VRC07-αCD3", "Control"], "range": ["square", "circle"]}, "legend": null}}},
    {"data": {"name": "ann"}, "transform": [{"filter": "datum.p == 'om10_b' && datum.k == 'h'"}], "mark": {"type": "text", "fontSize": 15, "align": "center", "baseline": "alphabetic"}, "encoding": {"text": {"field": "t"}}},
    {"data": {"name": "ann"}, "transform": [{"filter": "datum.p == 'om10_b' && datum.k == 'n'"}], "mark": {"type": "text", "fontSize": 13, "align": "center", "baseline": "alphabetic"}, "encoding": {"text": {"field": "t"}}},
    {"data": {"name": "rules"}, "transform": [{"filter": "datum.p == 'om10_b'"}], "mark": {"type": "rule", "strokeWidth": 1.3, "color": "black"}, "encoding": {"x2": {"field": "x2"}, "y2": {"field": "y2"}}}
   ]}
 ], "spacing": 0, "bounds": "flush"},

 {"hconcat": [
  {"width": 104, "height": 1, "data": {"values": []}, "mark": "point"},
  {"width": 120, "height": 120, "view": {"stroke": "black", "strokeWidth": 1.5},
   "encoding": {
    "x": {"field": "x", "type": "quantitative", "scale": {"domain": [0, 100], "nice": false, "zero": false}, "axis": {"values": [6,12,20,27,33,37,41,44,47,50,53,57,62,70,77,83,87,90,93,96], "labels": false, "tickSize": 4, "tickWidth": 1.2, "title": null, "domain": false}},
    "y": {"field": "y", "type": "quantitative", "scale": {"domain": [0, 100], "nice": false, "zero": false}, "axis": {"values": [2,5,8,11,14,17,20,23,26,30,62,72,79,83,86,89,92,94,96,98], "labels": false, "tickSize": 4, "tickWidth": 1.2, "title": null, "domain": false}}
   },
   "layer": [
    {"data": {"name": "c_area"}, "transform": [{"filter": "datum.p == 'cc'"}], "mark": {"type": "area", "orient": "horizontal", "color": "#22389a", "interpolate": "monotone", "opacity": 1}, "encoding": {"x2": {"field": "x2"}}},
    {"data": {"name": "mk"}, "transform": [{"filter": "datum.p == 'cc'"}], "mark": {"type": "point", "filled": true, "size": 1, "opacity": 0}, "encoding": {}},
    {"data": {"name": "c_dots"}, "transform": [{"filter": "datum.p == 'cc'"}], "mark": {"type": "point", "filled": true, "size": 5, "color": "#2d49b5", "opacity": 0.9}, "encoding": {}},
    {"data": {"name": "c_blob"}, "transform": [{"filter": "datum.p == 'cc'"}], "mark": {"type": "point", "filled": true, "shape": "M-1,0A1,0.5,0,1,0,1,0A1,0.5,0,1,0,-1,0Z", "opacity": 1, "strokeWidth": 0},
     "encoding": {
      "size": {"field": "lvl", "type": "quantitative", "scale": {"type": "linear", "domain": [1,2,3,4,5,6], "range": [1100,650,300,140,55,14]}, "legend": null},
      "color": {"field": "lvl", "type": "ordinal", "scale": {"domain": [1,2,3,4,5,6], "range": ["#1d2f8e","#2f5ccc","#37a6de","#4fc06a","#efe13c","#e2332a"]}, "legend": null},
      "order": {"field": "lvl", "type": "quantitative"}}},
    {"data": {"name": "c_gate"}, "transform": [{"filter": "datum.p == 'cc'"}], "mark": {"type": "rect", "fillOpacity": 0, "stroke": "#b5479e", "strokeWidth": 2}, "encoding": {"x2": {"field": "x2"}, "y2": {"field": "y2"}}},
    {"data": {"name": "ann"}, "transform": [{"filter": "datum.p == 'cc' && datum.k == 'h'"}], "mark": {"type": "text", "fontSize": 15, "align": "center", "baseline": "alphabetic"}, "encoding": {"text": {"field": "t"}}},
    {"data": {"name": "ann"}, "transform": [{"filter": "datum.p == 'cc' && datum.k == 'b'"}], "mark": {"type": "text", "fontSize": 18, "fontWeight": "bold", "align": "left", "baseline": "alphabetic"}, "encoding": {"text": {"field": "t"}}},
    {"data": {"name": "ann"}, "transform": [{"filter": "datum.p == 'cc' && datum.k == 'r'"}], "mark": {"type": "text", "fontSize": 15, "align": "center", "baseline": "middle", "angle": 270}, "encoding": {"text": {"field": "t"}}},
    {"data": {"name": "ann"}, "transform": [{"filter": "datum.p == 'cc' && datum.k == 'g'"}], "mark": {"type": "text", "fontSize": 14, "align": "center", "baseline": "middle", "color": "#b5479e"}, "encoding": {"text": {"field": "t"}}}
   ]},
  {"width": 20, "height": 1, "data": {"values": []}, "mark": "point"},
  {"width": 120, "height": 120, "view": {"stroke": "black", "strokeWidth": 1.5},
   "encoding": {
    "x": {"field": "x", "type": "quantitative", "scale": {"domain": [0, 100], "nice": false, "zero": false}, "axis": {"values": [6,12,20,27,33,37,41,44,47,50,53,57,62,70,77,83,87,90,93,96], "labels": false, "tickSize": 4, "tickWidth": 1.2, "title": null, "domain": false}},
    "y": {"field": "y", "type": "quantitative", "scale": {"domain": [0, 100], "nice": false, "zero": false}, "axis": {"values": [2,5,8,11,14,17,20,23,26,30,62,72,79,83,86,89,92,94,96,98], "labels": false, "tickSize": 4, "tickWidth": 1.2, "title": null, "domain": false}}
   },
   "layer": [
    {"data": {"name": "c_area"}, "transform": [{"filter": "datum.p == 'ct'"}], "mark": {"type": "area", "orient": "horizontal", "color": "#22389a", "interpolate": "monotone", "opacity": 1}, "encoding": {"x2": {"field": "x2"}}},
    {"data": {"name": "c_dots"}, "transform": [{"filter": "datum.p == 'ct'"}], "mark": {"type": "point", "filled": true, "size": 5, "color": "#2d49b5", "opacity": 0.9}, "encoding": {}},
    {"data": {"name": "c_blob"}, "transform": [{"filter": "datum.p == 'ct'"}], "mark": {"type": "point", "filled": true, "shape": "M-1,0A1,0.5,0,1,0,1,0A1,0.5,0,1,0,-1,0Z", "opacity": 1, "strokeWidth": 0},
     "encoding": {
      "size": {"field": "lvl", "type": "quantitative", "scale": {"type": "linear", "domain": [1,2,3,4,5,6], "range": [1150,650,300,140,55,14]}, "legend": null},
      "color": {"field": "lvl", "type": "ordinal", "scale": {"domain": [1,2,3,4,5,6], "range": ["#1d2f8e","#2f5ccc","#37a6de","#4fc06a","#efe13c","#e2332a"]}, "legend": null},
      "order": {"field": "lvl", "type": "quantitative"}}},
    {"data": {"name": "c_gate"}, "transform": [{"filter": "datum.p == 'ct'"}], "mark": {"type": "rect", "fillOpacity": 0, "stroke": "#b5479e", "strokeWidth": 2}, "encoding": {"x2": {"field": "x2"}, "y2": {"field": "y2"}}},
    {"data": {"name": "ann"}, "transform": [{"filter": "datum.p == 'ct' && datum.k == 'h'"}], "mark": {"type": "text", "fontSize": 15, "align": "center", "baseline": "alphabetic"}, "encoding": {"text": {"field": "t"}}},
    {"data": {"name": "ann"}, "transform": [{"filter": "datum.p == 'ct' && datum.k == 'g'"}], "mark": {"type": "text", "fontSize": 14, "align": "center", "baseline": "middle", "color": "#b5479e"}, "encoding": {"text": {"field": "t"}}}
   ]},
  {"width": 103, "height": 1, "data": {"values": []}, "mark": "point"},
  {"width": 120, "height": 150,
   "encoding": {
    "x": {"field": "x", "type": "quantitative", "scale": {"domain": [0, 2], "nice": false, "zero": false}, "axis": {"values": [0.5, 1.5], "labelExpr": "datum.value < 1 ? 'Control' : 'Treatment'", "tickSize": 5, "tickWidth": 1.5, "labelFontSize": 14.5, "labelPadding": 2, "labelFlush": false, "labelOverlap": false, "title": null, "domainWidth": 1.5}},
    "y": {"field": "y", "type": "quantitative", "scale": {"domain": [0, 100], "nice": false, "zero": false}, "axis": {"values": [0,20,40,60,80,100], "tickSize": 5, "tickWidth": 1.5, "labelFontSize": 15, "labelPadding": 3, "labelOverlap": false, "title": ["% HIV Env⁺ CD4⁺ T cells", "remaining in culture"], "titleFontSize": 14, "titleLineHeight": 17, "titlePadding": 4, "domainWidth": 1.5}}
   },
   "layer": [
    {"data": {"name": "d_pts"}, "transform": [{"filter": "datum.g == 'Control'"}], "mark": {"type": "point", "filled": true, "shape": "circle", "size": 55, "color": "black", "opacity": 1}, "encoding": {}},
    {"data": {"name": "d_pts"}, "transform": [{"filter": "datum.g == 'Treatment'"}], "mark": {"type": "point", "filled": true, "shape": "square", "size": 70, "color": "black", "opacity": 1}, "encoding": {}},
    {"data": {"name": "rules"}, "transform": [{"filter": "datum.p == 'd'"}], "mark": {"type": "rule", "strokeWidth": 1.8, "color": "black"}, "encoding": {"x2": {"field": "x2"}, "y2": {"field": "y2"}}},
    {"data": {"name": "ann"}, "transform": [{"filter": "datum.p == 'd' && datum.k == 'b'"}], "mark": {"type": "text", "fontSize": 18, "fontWeight": "bold", "align": "left", "baseline": "alphabetic"}, "encoding": {"text": {"field": "t"}}},
    {"data": {"name": "ann"}, "transform": [{"filter": "datum.p == 'd' && datum.k == 's'"}], "mark": {"type": "text", "fontSize": 15, "align": "left", "baseline": "alphabetic"}, "encoding": {"text": {"field": "t"}}},
    {"data": {"name": "ann"}, "transform": [{"filter": "datum.p == 'd' && datum.k == 'i'"}], "mark": {"type": "text", "fontSize": 15, "fontStyle": "italic", "align": "left", "baseline": "alphabetic"}, "encoding": {"text": {"field": "t"}}}
   ]}
 ], "spacing": 0, "bounds": "flush", "resolve": {"scale": {"color": "independent", "size": "independent"}, "legend": {"color": "independent", "size": "independent"}}}
]
}
